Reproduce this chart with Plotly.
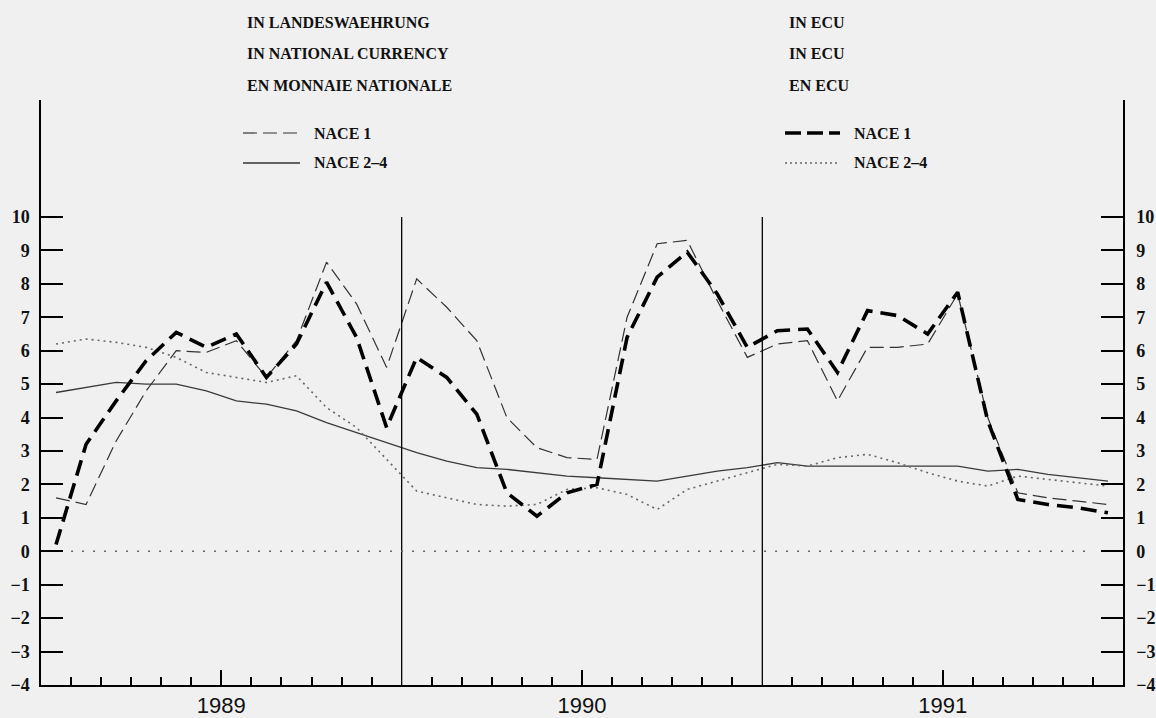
import plotly.graph_objects as go

# monthly values, Jan 1989 - Dec 1991 (points at mid-month)
months = [m + 0.5 for m in range(36)]

nace1_nat = [1.6, 1.4, 3.3, 4.8, 6.0, 5.95, 6.3, 5.2, 6.3, 8.65, 7.4, 5.5,
             8.15, 7.3, 6.3, 4.0, 3.1, 2.8, 2.75, 7.0, 9.2, 9.3, 7.5, 5.8,
             6.2, 6.3, 4.5, 6.1, 6.1, 6.2, 7.7, 4.0, 1.75, 1.6, 1.5, 1.4]
nace24_nat = [4.75, 4.9, 5.05, 5.0, 5.0, 4.8, 4.5, 4.4, 4.2, 3.85, 3.55, 3.25,
              2.95, 2.7, 2.5, 2.45, 2.35, 2.25, 2.2, 2.15, 2.1, 2.25, 2.4, 2.5,
              2.65, 2.55, 2.55, 2.55, 2.55, 2.55, 2.55, 2.4, 2.45, 2.3, 2.2, 2.1]
nace1_ecu = [0.2, 3.2, 4.5, 5.7, 6.55, 6.1, 6.5, 5.2, 6.2, 8.05, 6.4, 3.7,
             5.8, 5.2, 4.1, 1.75, 1.05, 1.75, 2.0, 6.4, 8.2, 8.95, 7.7, 6.1,
             6.6, 6.65, 5.35, 7.2, 7.05, 6.5, 7.75, 3.9, 1.55, 1.4, 1.3, 1.15]
nace24_ecu = [6.2, 6.35, 6.25, 6.1, 5.8, 5.35, 5.2, 5.05, 5.25, 4.3, 3.7, 2.75,
              1.8, 1.6, 1.4, 1.35, 1.4, 1.85, 1.9, 1.7, 1.25, 1.85, 2.1, 2.35,
              2.6, 2.55, 2.8, 2.9, 2.65, 2.35, 2.1, 1.95, 2.25, 2.15, 2.05, 1.95]

years = ["1989", "1990", "1991"]
y_ticks = list(range(-4, 11))

# plot area in pixels
L, R, T, B = 41, 1123, 100, 685
W, H = 1156, 718


def px(x):
    return (x - L) / (R - L)


def py(y):
    return (B - y) / (B - T)


SERIF = "Liberation Serif"
BG = "#f0f0f0"

fig = go.Figure()
fig.add_trace(go.Scatter(x=months, y=nace24_nat, mode="lines",
                         line=dict(color="#3a3a3a", width=1.3)))
fig.add_trace(go.Scatter(x=months, y=nace24_ecu, mode="lines",
                         line=dict(color="#666666", width=1.6, dash="2px,4px")))
fig.add_trace(go.Scatter(x=months, y=nace1_nat, mode="lines",
                         line=dict(color="#333333", width=1.2, dash="14px,6px")))
fig.add_trace(go.Scatter(x=months, y=nace1_ecu, mode="lines",
                         line=dict(color="black", width=3.6, dash="16px,8px")))
# dummy trace on the right axis so it shows
fig.add_trace(go.Scatter(x=[None], y=[None], yaxis="y2", showlegend=False))

shapes = []
# year boundaries
for xb in (12, 24):
    shapes.append(dict(type="line", xref="x", yref="y", x0=xb, x1=xb, y0=-4, y1=10,
                       line=dict(color="black", width=1.3)))
# zero line
shapes.append(dict(type="line", xref="x", yref="y", x0=1, x1=35, y0=0, y1=0,
                   line=dict(color="#666666", width=1.4, dash="2px,9px")))

# legend samples
leg = [
    (243, 300, 133, dict(color="#333333", width=1.2, dash="14px,6px")),
    (243, 300, 163, dict(color="#333333", width=1.3)),
    (785, 840, 133, dict(color="black", width=3.6, dash="16px,6px")),
    (785, 840, 163, dict(color="#666666", width=1.3, dash="2px,3px")),
]
for x0, x1, yy, ln in leg:
    shapes.append(dict(type="line", xref="paper", yref="paper",
                       x0=px(x0), x1=px(x1), y0=py(yy), y1=py(yy), line=ln))

annotations = []
texts = [
    (245, 22, "IN LANDESWAEHRUNG"), (245, 53, "IN NATIONAL CURRENCY"),
    (245, 85, "EN MONNAIE NATIONALE"), (312, 133, "NACE 1"), (312, 163, "NACE 2\u20134"),
    (787, 22, "IN ECU"), (787, 53, "IN ECU"), (787, 85, "EN ECU"),
    (852, 133, "NACE 1"), (852, 163, "NACE 2\u20134"),
]
for x, y, t in texts:
    annotations.append(dict(text=t, xref="paper", yref="paper", x=px(x), y=py(y),
                            xanchor="left", yanchor="middle", showarrow=False,
                            font=dict(family=SERIF, size=16, color="#111111",
                                      weight="bold")))

quarters = [3, 6, 9, 15, 18, 21, 27, 30, 33]
qtext = ["", years[0], "", "", years[1], "", "", years[2], ""]
monthly = [m for m in range(1, 36) if m not in (12, 24)]

yfont = dict(family=SERIF, size=18, color="#111111", weight="bold")

fig.update_layout(
    width=W, height=H,
    margin=dict(l=L, r=W - R, t=T, b=H - B, autoexpand=False),
    paper_bgcolor=BG, plot_bgcolor=BG,
    showlegend=False,
    shapes=shapes, annotations=annotations,
    xaxis=dict(range=[0, 36], showgrid=False, zeroline=False,
               showline=True, linecolor="black", linewidth=1.5,
               tickmode="array", tickvals=quarters, ticktext=qtext,
               ticks="inside", ticklen=15, tickwidth=1.5, tickcolor="black",
               ticklabelstandoff=0,
               tickfont=dict(family="Liberation Sans", size=22, color="#111111"),
               minor=dict(tickmode="array", tickvals=monthly, ticks="inside",
                          ticklen=8, tickwidth=1.5, tickcolor="black", showgrid=False)),
    yaxis=dict(range=[-4, 13.5], showgrid=False, zeroline=False,
               showline=True, linecolor="black", linewidth=1.5,
               tickmode="array", tickvals=y_ticks,
               ticks="inside", ticklen=22, tickwidth=1.5, tickcolor="black",
               ticklabelstandoff=6, tickfont=yfont),
    yaxis2=dict(range=[-4, 13.5], overlaying="y", side="right", showgrid=False,
                zeroline=False, showline=True, linecolor="black", linewidth=1.5,
                tickmode="array", tickvals=y_ticks,
                ticks="inside", ticklen=22, tickwidth=1.5, tickcolor="black",
                ticklabelstandoff=8, tickfont=yfont),
)

fig.write_html("out.html", config={"displayModeBar": False},
               post_script="document.body.style.margin='0';"
                           "document.body.style.background='#f0f0f0';")
